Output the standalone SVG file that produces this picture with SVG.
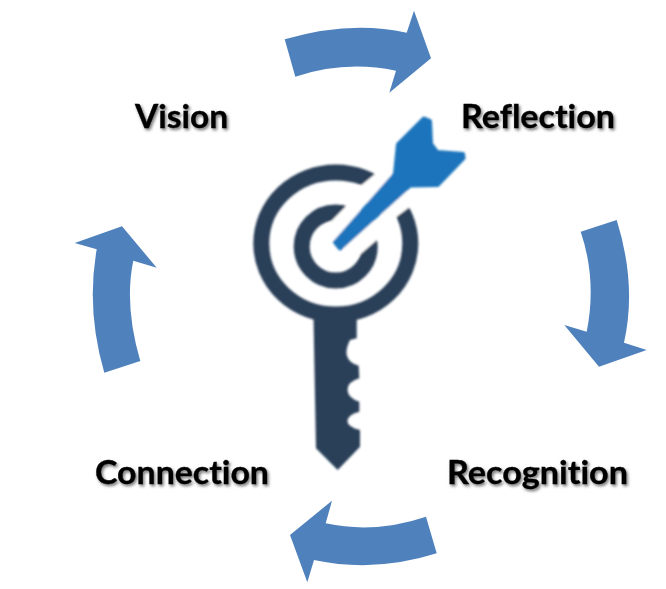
<svg xmlns="http://www.w3.org/2000/svg" width="666" height="589" viewBox="0 0 666 589">
<style>
.arrow{fill:#4f81bd}
.ring{fill:none;stroke:#2b3f58}
.cut{fill:#fff}
.label{font-family:"Lato","Liberation Sans",sans-serif;font-weight:700;font-size:33px;font-variant-ligatures:none;fill:#000;stroke:#000;stroke-width:0.3;filter:url(#shadow)}
</style>
<defs>
<filter id="shadow" x="-10%" y="-30%" width="120%" height="160%"><feDropShadow dx="1.5" dy="2" stdDeviation="1.4" flood-color="#000" flood-opacity="0.55"/></filter>
<filter id="soft" x="-5%" y="-5%" width="110%" height="110%"><feGaussianBlur stdDeviation="0.8"/></filter>
</defs>
<rect width="666" height="589" fill="#fff"/>
<g id="connectors">
<path class="arrow" d="M284.7 39.3Q350 20 406.7 32.7L414 10.7L431 58.3L389.3 92.7L396 70.7Q345 60 295.3 76.7Z"/>
<path class="arrow" d="M580.7 231.7L616.7 220Q637 285 624 342.7L646.7 350L599 366.7L564.3 325L586.7 331.7Q597 280 580.7 231.7Z"/>
<path class="arrow" d="M426 516.7L436.7 553.3Q375 573 314 560L307.3 582.3L290 535L332 500.7L325.7 523.3Q375 534 426 516.7Z"/>
<path class="arrow" d="M140.3 361Q124 305 133.3 260.7L156.7 267.7L122 226.3L74.7 243L96.7 249.3Q86 310 104.3 372.7Z"/>
</g>
<g id="key-icon" filter="url(#soft)">
<ellipse class="ring" cx="335.8" cy="243.5" rx="74.5" ry="71" stroke-width="16"/>
<polygon class="cut" points="353.3,191.7 383.3,167.3 416.7,201.7 390,221.7"/>
<circle class="ring" cx="335.7" cy="246.5" r="34" stroke-width="16"/>
<polygon class="cut" points="323,229.5 350,202 386,232 355,259"/>
<path fill="#2b3f58" d="M313.5 318H356.7V338.3L350 340Q345 350 347 356Q349 363 358.7 365.7L359.3 378.3Q347 382 347.5 390Q348 398 359.3 401.7V411.7Q347 415 347.5 421.7Q348 427 360 430V446.7L337.7 470L316 448.3Z"/>
<polygon fill="#1a75bc" stroke="#1a75bc" stroke-width="4" stroke-linejoin="round" points="335,242.3 395,174 398,144.5 424,118.5 430,121 431,144 437,152 463,154 463.5,158 437.5,185 410,185.5 340,248.5"/>
</g>
<g id="vision"><text class="label" x="135" y="128" textLength="93" lengthAdjust="spacingAndGlyphs">Vision</text></g>
<g id="reflection"><text class="label" x="461" y="128" textLength="154" lengthAdjust="spacingAndGlyphs">Reflection</text></g>
<g id="recognition"><text class="label" x="447" y="484" textLength="181" lengthAdjust="spacingAndGlyphs">Recognition</text></g>
<g id="connection"><text class="label" x="95" y="484" textLength="174" lengthAdjust="spacingAndGlyphs">Connection</text></g>
</svg>
